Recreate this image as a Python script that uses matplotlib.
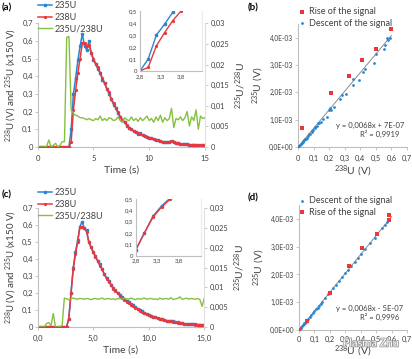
import numpy as np
import matplotlib

matplotlib.use('Agg')
import matplotlib.pyplot as plt
import matplotlib.patheffects as pe

plt.rcParams['font.family'] = ['Lato', 'DejaVu Sans']
plt.rcParams['mathtext.fontset'] = 'custom'
plt.rcParams['mathtext.rm'] = 'Lato'
plt.rcParams['mathtext.it'] = 'Lato:italic'

# ---- time series, one point every 0.2 s (0.2 ... 15.0 s) ----
u235_a = [0, 0, 0, 0, 0, 0, 0, 0, 0, 0,
          0, 0, 0, 0, 0.10, 0.30, 0.39, 0.49, 0.57, 0.64,
          0.57, 0.55, 0.60, 0.53, 0.49, 0.47, 0.44, 0.42, 0.38, 0.36,
          0.33, 0.30, 0.27, 0.24, 0.22, 0.19, 0.17, 0.15, 0.14, 0.12,
          0.11, 0.10, 0.09, 0.085, 0.075, 0.08, 0.068, 0.062, 0.058, 0.052,
          0.05, 0.045, 0.04, 0.037, 0.033, 0.03, 0.028, 0.026, 0.03, 0.035,
          0.03, 0.022, 0.02, 0.018, 0.017, 0.015, 0.016, 0.013, 0.012, 0.014,
          0.01, 0.012, 0.01, 0.012, 0.012]
u238_a = [0, 0, 0, 0, 0, 0, 0, 0, 0, 0,
          0, 0, 0, 0, 0.03, 0.21, 0.32, 0.42, 0.50, 0.59,
          0.59, 0.57, 0.58, 0.53, 0.50, 0.47, 0.45, 0.42, 0.39, 0.36,
          0.33, 0.31, 0.27, 0.25, 0.22, 0.20, 0.17, 0.155, 0.14, 0.125,
          0.11, 0.10, 0.092, 0.085, 0.078, 0.075, 0.068, 0.063, 0.058, 0.053,
          0.05, 0.046, 0.042, 0.038, 0.034, 0.031, 0.028, 0.027, 0.03, 0.034,
          0.03, 0.024, 0.021, 0.019, 0.017, 0.016, 0.015, 0.014, 0.013, 0.013,
          0.012, 0.012, 0.011, 0.012, 0.011]
ratio_a = [0, 0, 0, 0.0002, 0.0017, 0, 0.0004, 0.0009, 0, 0.0004,
           0.0013, 0.0013, 0.0266, 0.0268, 0.009, 0.0081, 0.0077, 0.0075, 0.0071, 0.0071,
           0.0069, 0.0066, 0.0069, 0.0066, 0.0064, 0.0069, 0.0066, 0.0075, 0.0064, 0.0069,
           0.0064, 0.0071, 0.0069, 0.0064, 0.0066, 0.0073, 0.0064, 0.006, 0.0071, 0.0066,
           0.0064, 0.0073, 0.0064, 0.0069, 0.0062, 0.0071, 0.0064, 0.0069, 0.0075, 0.0064,
           0.0069, 0.006, 0.0073, 0.0064, 0.0077, 0.006, 0.0071, 0.0064, 0.0069, 0.0094,
           0.0047, 0.0069, 0.0066, 0.0073, 0.0064, 0.0071, 0.0086, 0.0051, 0.0073, 0.0064,
           0.009, 0.0043, 0.0075, 0.0069, 0.0071]

u235_c = [0, 0, 0, 0, 0, 0, 0, 0, 0, 0,
          0, 0, 0, 0.05, 0.20, 0.35, 0.44, 0.51, 0.59, 0.62,
          0.58, 0.57, 0.50, 0.47, 0.44, 0.42, 0.39, 0.37, 0.34, 0.31,
          0.29, 0.27, 0.25, 0.23, 0.215, 0.20, 0.19, 0.175, 0.165, 0.155,
          0.145, 0.135, 0.127, 0.118, 0.108, 0.10, 0.092, 0.085, 0.078, 0.072,
          0.066, 0.061, 0.057, 0.053, 0.05, 0.046, 0.042, 0.038, 0.036, 0.037,
          0.033, 0.03, 0.027, 0.024, 0.022, 0.02, 0.019, 0.018, 0.017, 0.016,
          0.015, 0.014, 0.014, 0.013, 0.013]
u238_c = [0, 0, 0, 0, 0, 0, 0, 0, 0, 0,
          0, 0, 0, 0.05, 0.20, 0.34, 0.43, 0.50, 0.59, 0.59,
          0.58, 0.56, 0.50, 0.47, 0.44, 0.41, 0.39, 0.36, 0.34, 0.31,
          0.285, 0.265, 0.25, 0.225, 0.21, 0.20, 0.185, 0.17, 0.16, 0.15,
          0.14, 0.13, 0.122, 0.113, 0.105, 0.097, 0.09, 0.083, 0.076, 0.07,
          0.064, 0.06, 0.056, 0.052, 0.048, 0.045, 0.041, 0.037, 0.035, 0.036,
          0.032, 0.029, 0.026, 0.023, 0.021, 0.019, 0.018, 0.017, 0.016, 0.015,
          0.014, 0.014, 0.013, 0.013, 0.012]
ratio_c = [0, 0, 0, 0.0009, 0.0011, 0.0004, 0.0034, 0, 0, 0,
           0.0004, 0.0073, 0.0071, 0.0069, 0.0071, 0.0073, 0.0071, 0.007, 0.0072, 0.0071,
           0.007, 0.0072, 0.0071, 0.0069, 0.0071, 0.0072, 0.007, 0.0071, 0.0073, 0.007,
           0.0071, 0.0072, 0.007, 0.0071, 0.0069, 0.0072, 0.0071, 0.007, 0.0072, 0.0071,
           0.007, 0.0073, 0.0071, 0.0069, 0.0072, 0.007, 0.0071, 0.0073, 0.007, 0.0071,
           0.0072, 0.007, 0.0071, 0.0069, 0.0073, 0.007, 0.0071, 0.0072, 0.007, 0.0074,
           0.0069, 0.0071, 0.0072, 0.0076, 0.007, 0.0071, 0.0073, 0.007, 0.0072, 0.0071,
           0.007, 0.0072, 0.0069, 0.0052, 0.0073]

t = 0.2 * np.arange(1, len(u235_a) + 1)

# ---- scatter data 238U (V) vs 235U (V) ----
rise_b_x = [0, 0.025, 0.21, 0.325, 0.41, 0.50, 0.595]
rise_b_y = [0, 0.00068, 0.00196, 0.0026, 0.0032, 0.0036, 0.0043]
desc_b_x = [0.591, 0.57, 0.575, 0.56, 0.552, 0.50, 0.488, 0.433, 0.415, 0.39, 0.355, 0.35,
            0.306, 0.28, 0.27, 0.233, 0.21, 0.205, 0.20, 0.184, 0.158, 0.148, 0.137, 0.13,
            0.12, 0.11, 0.109, 0.098, 0.09, 0.088, 0.077, 0.07, 0.066, 0.056, 0.05, 0.045,
            0.04, 0.034, 0.03, 0.024, 0.017, 0.013, 0.006]
desc_b_y = [0.00399, 0.004, 0.0039, 0.00374, 0.00358, 0.0034, 0.00307, 0.00285, 0.00276,
            0.00246, 0.0025, 0.00228, 0.00195, 0.0019, 0.00175, 0.00146, 0.00137, 0.00142,
            0.00136, 0.00111, 0.00101, 0.00093, 0.00087, 0.00088, 0.00077, 0.00074, 0.00068,
            0.00062, 0.0006, 0.00055, 0.00048, 0.00046, 0.0004, 0.00034, 0.0003, 0.00028,
            0.00025, 0.00021, 0.00018, 0.00013, 0.0001, 0.00007, 0.00004]
fit_b = (0.0068, 7e-7)
r2_b = '0,9919'

rise_d_x = [0, 0.05, 0.2, 0.324, 0.41, 0.503, 0.583, 0.583]
rise_d_y = [0, 0.00034, 0.00135, 0.0023, 0.00294, 0.00346, 0.00396, 0.00414]
desc_d_x = [0.57, 0.555, 0.54, 0.49, 0.46, 0.43, 0.40, 0.38, 0.36, 0.34, 0.32, 0.30, 0.28,
            0.26, 0.24, 0.22, 0.20, 0.19, 0.17, 0.15, 0.14, 0.13, 0.12, 0.11, 0.10, 0.09,
            0.08, 0.07, 0.06, 0.05, 0.045, 0.04, 0.035, 0.03, 0.025, 0.02, 0.015, 0.01, 0.005]
desc_d_y = [0.00388, 0.00378, 0.00366, 0.00332, 0.00312, 0.00293, 0.00272, 0.00258, 0.00245,
            0.00231, 0.00217, 0.00204, 0.0019, 0.00177, 0.00163, 0.0015, 0.00136, 0.00129,
            0.00115, 0.00102, 0.00095, 0.00088, 0.00081, 0.00074, 0.00068, 0.00061, 0.00054,
            0.00047, 0.0004, 0.00034, 0.0003, 0.00027, 0.00024, 0.0002, 0.00017, 0.00013,
            0.0001, 0.00007, 0.00003]
fit_d = (0.0068, -5e-7)
r2_d = '0,9996'

left_ticks = [0, 0.1, 0.2, 0.3, 0.4, 0.5, 0.6, 0.7]
left_labels = ['0', '0,1', '0,2', '0,3', '0,4', '0,5', '0,6', '0,7']
right_ticks = [0, 0.005, 0.01, 0.015, 0.02, 0.025, 0.03]
right_labels = ['0', '0,005', '0,01', '0,015', '0,02', '0,025', '0,03']
inset_yticks = [0, 0.1, 0.2, 0.3, 0.4, 0.5]
inset_ylabels = ['0', '0,1', '0,2', '0,3', '0,4', '0,5']
inset_xticks = [2.8, 3.3, 3.8]
inset_xlabels = ['2,8', '3,3', '3,8']
sc_xticks = [0, 0.1, 0.2, 0.3, 0.4, 0.5, 0.6, 0.7]
sc_xlabels = ['0', '0,1', '0,2', '0,3', '0,4', '0,5', '0,6', '0,7']
sc_yticks = [0, 0.001, 0.002, 0.003, 0.004]
sc_ylabels = ['0,0E+00', '1,0E-03', '2,0E-03', '3,0E-03', '4,0E-03']

BLUE = '#2a86d1'
RED = '#e8383d'
GREEN = '#86c040'
GRAY = '#bfbfbf'
TXT = '#404040'

W, H = 412, 359
fig = plt.figure(figsize=(W / 100, H / 100), dpi=100)


def box(l, t_, r, b):
    return [l / W, 1 - b / H, (r - l) / W, (b - t_) / H]


def style(ax, size=5.5):
    for s in ['top', 'right']:
        ax.spines[s].set_visible(False)
    for s in ['left', 'bottom']:
        ax.spines[s].set_color(GRAY)
        ax.spines[s].set_linewidth(0.8)
    ax.tick_params(colors=GRAY, labelcolor=TXT, labelsize=size, length=2, width=0.6, pad=1.5)


def time_panel(rect, inset_rect, u235, u238, ratio, xlabels, letter, letter_y):
    ax = fig.add_axes(box(*rect))
    style(ax)
    l1, = ax.plot(t, u235, color=BLUE, lw=1.1, marker='s', ms=1.5, zorder=3)
    l2, = ax.plot(t, u238, color=RED, lw=1.1, marker='o', ms=1.3, zorder=4)
    ax.set_xlim(0, 15)
    ax.set_ylim(0, 0.7)
    ax.set_xticks([0, 5, 10, 15])
    ax.set_xticklabels(xlabels)
    ax.set_yticks(left_ticks)
    ax.set_yticklabels(left_labels)
    ax.tick_params(axis='x', pad=4)
    ax.set_xlabel('Time (s)', fontsize=7.5, color=TXT, labelpad=2)
    ax.set_ylabel('$^{238}$U (V) and $^{235}$U (x150 V)', fontsize=7, color=TXT, labelpad=2)

    ax2 = ax.twinx()
    for s in ['top', 'left', 'bottom']:
        ax2.spines[s].set_visible(False)
    ax2.spines['right'].set_color('#e0e0e0')
    ax2.tick_params(colors=GRAY, labelcolor=TXT, labelsize=5.3, length=2, width=0.6, pad=2)
    l3, = ax2.plot(t, ratio, color=GREEN, lw=1.0)
    ax2.set_ylim(0, 0.03)
    ax2.set_yticks(right_ticks)
    ax2.set_yticklabels(right_labels)
    ax2.set_ylabel('$^{235}$U/$^{238}$U', fontsize=7.5, color=TXT, rotation=90, labelpad=3)

    fig.legend([l1, l2, l3], ['235U', '238U', '235U/238U'], loc='upper left',
               bbox_to_anchor=(38 / W, 1 - (letter_y - 7) / H), frameon=False,
               fontsize=6.5, handlelength=1.5, handletextpad=0.3, labelspacing=0.3,
               borderaxespad=0, borderpad=0, labelcolor=TXT)

    axi = fig.add_axes(box(*inset_rect))
    style(axi, size=4.3)
    axi.plot(t, u235, color=BLUE, lw=1.0, marker='s', ms=1.6)
    axi.plot(t, u238, color=RED, lw=1.0, marker='o', ms=1.3)
    axi.set_xlim(2.8, 4.3)
    axi.set_ylim(0, 0.5)
    axi.set_xticks(inset_xticks)
    axi.set_xticklabels(inset_xlabels)
    axi.set_yticks(inset_yticks)
    axi.set_yticklabels(inset_ylabels)
    axi.tick_params(length=0, pad=2)
    axi.spines['right'].set_visible(True)
    axi.spines['right'].set_color('#ececec')

    fig.text(2 / W, 1 - letter_y / H, letter, fontsize=7, fontweight='bold', va='center')


def scatter_panel(rect, first, second, fit, r2, eq, eq_y, letter, letter_y, leg_y, xpad):
    ax = fig.add_axes(box(*rect))
    style(ax, size=4.8)
    xs = np.array([0, 0.6])
    ax.plot(xs, fit[0] * xs + fit[1], color='#8c8c8c', lw=0.7, zorder=2)
    handles = []
    for (x, y, kind) in (first, second):
        if kind == 'rise':
            h = ax.scatter(x, y, marker='s', s=9, color=RED, lw=0, zorder=3,
                           label='Rise of the signal')
        else:
            h = ax.scatter(x, y, marker='o', s=4, color=BLUE, lw=0, zorder=3,
                           label='Descent of the signal')
        handles.append(h)
    ax.set_xlim(0, 0.7)
    ax.set_ylim(0, 0.0045)
    ax.set_xticks(sc_xticks)
    ax.set_xticklabels(sc_xlabels)
    ax.set_yticks(sc_yticks)
    ax.set_yticklabels(sc_ylabels)
    ax.tick_params(axis='x', pad=xpad, labelsize=5.3)
    ax.set_xlabel('$^{238}$U (V)', fontsize=7.5, color=TXT, labelpad=0.5)
    ax.set_ylabel('$^{235}$U (V)', fontsize=7.5, color=TXT, labelpad=2)
    fig.legend(handles, [h.get_label() for h in handles], loc='upper left',
               bbox_to_anchor=(298 / W, 1 - leg_y / H), frameon=False, fontsize=6.5,
               handlelength=0.8, handletextpad=0.4, labelspacing=0.3, borderaxespad=0,
               borderpad=0, labelcolor=TXT)
    fig.text(370 / W, 1 - eq_y / H, eq, fontsize=5.5, color=TXT, ha='center', va='center')
    fig.text(380 / W, 1 - (eq_y + 9) / H, 'R² = ' + r2, fontsize=5.5, color=TXT,
             ha='center', va='center')
    fig.text(248 / W, 1 - letter_y / H, letter, fontsize=7, fontweight='bold', va='center')


time_panel((37.7, 23.3, 205, 147), (140, 11, 201.5, 71), u235_a, u238_a, ratio_a,
           ['0', '5', '10', '15'], '(a)', 8)
time_panel((37.7, 208, 204.3, 327), (135.7, 199, 200.7, 255.7), u235_c, u238_c, ratio_c,
           ['0,0', '5,0', '10,0', '15,0'], '(c)', 195)

scatter_panel((298, 24, 407, 147), (rise_b_x, rise_b_y, 'rise'), (desc_b_x, desc_b_y, 'desc'),
              fit_b, r2_b, 'y = 0,0068x + 7E-07', 125, '(b)', 8, 7, 4)
scatter_panel((299, 205, 407, 330), (desc_d_x, desc_d_y, 'desc'), (rise_d_x, rise_d_y, 'rise'),
              fit_d, r2_d, 'y = 0,0068x - 5E-07', 308, '(d)', 198, 196, 2.5)

fig.text(371 / W, 1 - 343 / H, 'Plasma Zhu', fontsize=8, color='white', ha='center',
         va='center', path_effects=[pe.withStroke(linewidth=1.2, foreground='#9a9a9a')])

fig.savefig('out.png', dpi=100)
